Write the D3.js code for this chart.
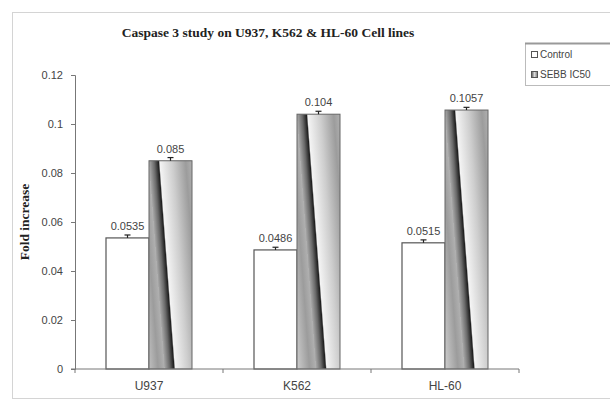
<!DOCTYPE html>
<html>
<head>
<meta charset="utf-8">
<script src="https://cdn.jsdelivr.net/npm/d3@7"></script>
<style>
  body { margin: 0; background: #fff; }
  svg { display: block; }
</style>
</head>
<body>
<svg id="chart"></svg>
<script>
const categories = ["U937", "K562", "HL-60"];
const seriesNames = ["Control", "SEBB IC50"];
const controlVals = [0.0535, 0.0486, 0.0515];
const sebbVals = [0.085, 0.104, 0.1057];
const controlErr = [0.0012, 0.0011, 0.0012];
const sebbErr = [0.0013, 0.0012, 0.0011];
const controlLabels = ["0.0535", "0.0486", "0.0515"];
const sebbLabels = ["0.085", "0.104", "0.1057"];
const yTicks = [0, 0.02, 0.04, 0.06, 0.08, 0.1, 0.12];

const svgWidth = 610, svgHeight = 404;
const plot = {left: 75, right: 519, top: 75, bottom: 369};

const svg = d3.select("#chart")
  .attr("width", svgWidth)
  .attr("height", svgHeight);

// outer chart frame
svg.append("rect")
  .attr("x", 12.5).attr("y", 12.5)
  .attr("width", 620).attr("height", 386)
  .attr("fill", "#fff")
  .attr("stroke", "#d4d4d4");

const x = d3.scaleBand()
  .domain(categories)
  .range([plot.left, plot.right])
  .paddingInner(0).paddingOuter(0);

const y = d3.scaleLinear()
  .domain([0, 0.12])
  .range([plot.bottom, plot.top]);

const barW = 43;

// gradient for the SEBB bars (slanted shiny fill)
const defs = svg.append("defs");
const slant = 0.075;
sebbVals.forEach((v, i) => {
  const left = x(categories[i]) + x.bandwidth() / 2;
  const top = y(v);
  const g = defs.append("linearGradient")
    .attr("id", "sebb" + i)
    .attr("gradientUnits", "userSpaceOnUse")
    .attr("x1", left - top * slant).attr("y1", 0)
    .attr("x2", left + barW - top * slant).attr("y2", 0)
    .attr("gradientTransform", `skewX(${Math.atan(slant) * 180 / Math.PI})`)
    .attr("spreadMethod", "repeat");
  [[0, "#a8a8a8"], [0.12, "#6a6a6a"], [0.22, "#1e1e1e"], [0.25, "#f4f4f4"],
   [0.55, "#cdcdcd"], [0.85, "#9c9c9c"], [1, "#b0b0b0"]]
    .forEach(s => g.append("stop").attr("offset", s[0]).attr("stop-color", s[1]));
});

// y axis
const yAxis = svg.append("g")
  .attr("transform", `translate(${plot.left},0)`)
  .call(d3.axisLeft(y).tickValues(yTicks).tickSize(4).tickFormat(d => d3.format("")(+d.toFixed(2))));
yAxis.select(".domain").attr("stroke", "#777");
yAxis.selectAll(".tick line").attr("stroke", "#777");
yAxis.selectAll("text")
  .attr("x", -12)
  .style("font-family", "Liberation Sans, Arial, sans-serif")
  .style("font-size", "11px")
  .attr("fill", "#444");

// bars
const groups = svg.append("g");
categories.forEach((c, i) => {
  const cx = x(c) + x.bandwidth() / 2;
  groups.append("rect")
    .attr("x", cx - barW).attr("y", y(controlVals[i]))
    .attr("width", barW).attr("height", y(0) - y(controlVals[i]))
    .attr("fill", "#fff")
    .attr("stroke", "#555").attr("stroke-width", 1.2);
  groups.append("rect")
    .attr("x", cx).attr("y", y(sebbVals[i]))
    .attr("width", barW).attr("height", y(0) - y(sebbVals[i]))
    .attr("fill", `url(#sebb${i})`)
    .attr("stroke", "#666").attr("stroke-width", 1);
});

// error bars and value labels
function errBar(cx, v, e) {
  groups.append("line")
    .attr("x1", cx).attr("x2", cx)
    .attr("y1", y(v)).attr("y2", y(v + e))
    .attr("stroke", "#222").attr("stroke-width", 1.2);
  groups.append("line")
    .attr("x1", cx - 3).attr("x2", cx + 3)
    .attr("y1", y(v + e)).attr("y2", y(v + e))
    .attr("stroke", "#222").attr("stroke-width", 1.2);
}
function valLabel(cx, v, t) {
  groups.append("text")
    .attr("x", cx).attr("y", y(v) - 8)
    .attr("text-anchor", "middle")
    .style("font-family", "Liberation Sans, Arial, sans-serif")
    .style("font-size", "11px")
    .attr("fill", "#444")
    .text(t);
}
categories.forEach((c, i) => {
  const cx = x(c) + x.bandwidth() / 2;
  errBar(cx - barW / 2, controlVals[i], controlErr[i]);
  errBar(cx + barW / 2, sebbVals[i], sebbErr[i]);
  valLabel(cx - barW / 2, controlVals[i], controlLabels[i]);
  valLabel(cx + barW / 2, sebbVals[i], sebbLabels[i]);
});

// x axis
const xAxis = svg.append("g")
  .attr("transform", `translate(0,${plot.bottom})`)
  .call(d3.axisBottom(x).tickSize(0).tickPadding(12));
xAxis.select(".domain").attr("stroke", "#777").attr("d", `M${plot.left - 4},0H${plot.right}`);
xAxis.selectAll("text")
  .style("font-family", "Liberation Sans, Arial, sans-serif")
  .style("font-size", "12px")
  .attr("fill", "#444");
const boundaries = categories.map(c => x(c)).concat([plot.right]);
xAxis.selectAll(".bound").data(boundaries).enter().append("line")
  .attr("class", "bound")
  .attr("x1", d => d).attr("x2", d => d)
  .attr("y1", 0).attr("y2", 4)
  .attr("stroke", "#777");

// title
svg.append("text")
  .attr("x", 268).attr("y", 37)
  .attr("text-anchor", "middle")
  .style("font-family", "Liberation Serif, Times New Roman, serif")
  .style("font-weight", "bold")
  .style("font-size", "13.5px")
  .attr("fill", "#222")
  .text("Caspase 3 study on U937, K562 & HL-60 Cell lines");

// y axis label
svg.append("text")
  .attr("transform", `translate(29,${(plot.top + plot.bottom) / 2}) rotate(-90)`)
  .attr("text-anchor", "middle")
  .style("font-family", "Liberation Serif, Times New Roman, serif")
  .style("font-weight", "bold")
  .style("font-size", "13.5px")
  .attr("fill", "#222")
  .text("Fold increase");

// legend
const legend = svg.append("g").attr("class", "legend");
legend.append("rect")
  .attr("x", 525.5).attr("y", 43.5)
  .attr("width", 100).attr("height", 42)
  .attr("fill", "#fff").attr("stroke", "#bbb");
legend.append("line")
  .attr("x1", 525).attr("x2", 610).attr("y1", 43.5).attr("y2", 43.5)
  .attr("stroke", "#999").attr("stroke-width", 2);
const legendFill = ["#fff", "url(#legendGrad)"];
const lg = defs.append("linearGradient").attr("id", "legendGrad");
lg.append("stop").attr("offset", 0).attr("stop-color", "#555");
lg.append("stop").attr("offset", 0.5).attr("stop-color", "#ddd");
lg.append("stop").attr("offset", 1).attr("stop-color", "#777");
seriesNames.forEach((s, i) => {
  legend.append("rect")
    .attr("x", 531.5).attr("y", 51.5 + i * 20)
    .attr("width", 6).attr("height", 6)
    .attr("fill", legendFill[i])
    .attr("stroke", "#555");
  legend.append("text")
    .attr("x", 540).attr("y", 58 + i * 20)
    .style("font-family", "Liberation Sans, Arial, sans-serif")
    .style("font-size", "10px")
    .attr("fill", "#444")
    .text(s);
});
</script>
</body>
</html>
